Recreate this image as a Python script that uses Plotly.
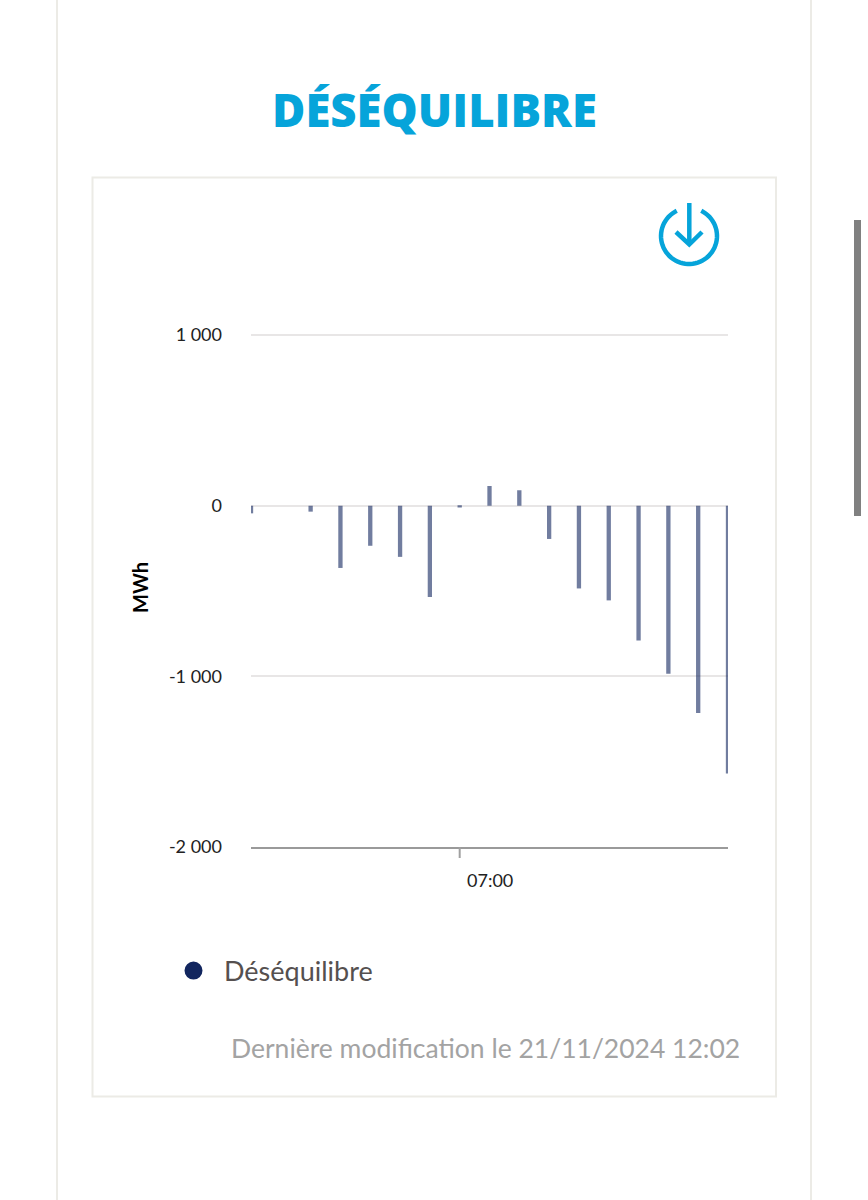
import numpy as np
import plotly.graph_objects as go

W = 868
H = 1200

times = ['2024-11-21 05:15', '2024-11-21 05:45', '2024-11-21 06:00', '2024-11-21 06:15',
         '2024-11-21 06:30', '2024-11-21 06:45', '2024-11-21 07:00', '2024-11-21 07:15',
         '2024-11-21 07:30', '2024-11-21 07:45', '2024-11-21 08:00', '2024-11-21 08:15',
         '2024-11-21 08:30', '2024-11-21 08:45', '2024-11-21 09:00', '2024-11-21 09:15']
values = [-45, -35, -365, -235, -300, -535, -10, 115, 90, -195, -485, -555, -790, -985, -1215, -1570]
y_ticks = [-2000, -1000, 0, 1000]
y_labels = ['-2 000', '-1 000', '0', '1 000']

NAVY = '#12265f'
BLUE = '#06a4da'
BORDER = '#ecebe6'


# shapes are placed in screen pixels, converted to paper coordinates
def px(x):
    return x / W


def py(y):
    return 1 - y / H


def rect(x0, y0, x1, y1, **kw):
    return dict(type='rect', xref='paper', yref='paper', x0=px(x0), x1=px(x1), y0=py(y0), y1=py(y1), **kw)


def path(points, width=4.5, color=BLUE):
    d = 'M' + ' L'.join(f'{px(x):.5f},{py(y):.5f}' for x, y in points)
    return dict(type='path', xref='paper', yref='paper', path=d, line=dict(color=color, width=width))


def label(text, x, y, size, color, family='Lato', xref='paper', xanchor='center', **kw):
    return dict(text=text, xref=xref, yref='paper', x=x, y=py(y), xanchor=xanchor, yanchor='middle', showarrow=False,
                font=dict(family=family, size=size, color=color, **kw.pop('font', {})), **kw)


angles = np.radians(np.linspace(26, 334, 60))
arc = [(689 + 28 * np.sin(a), 236 - 28 * np.cos(a)) for a in angles]

fig = go.Figure()
fig.add_bar(x=times, y=values, width=130000, marker=dict(color=NAVY, opacity=0.6, line_width=0), showlegend=False)
fig.add_scatter(x=[None], y=[None], name='Déséquilibre', mode='markers',
                marker=dict(color=NAVY, size=16, symbol='circle', line=dict(color=NAVY, width=2)))

fig.update_layout(
    width=W, height=H, margin=dict(l=0, r=0, t=0, b=0, autoexpand=False),
    paper_bgcolor='white', plot_bgcolor='white',
    font=dict(family='Lato', color='#222222'),
    legend=dict(x=px(163), y=py(971), xanchor='left', yanchor='middle', bgcolor='rgba(0,0,0,0)',
                font=dict(family='Lato', size=27, color='#55504f'), itemwidth=51),
    shapes=[
        dict(type='line', xref='paper', yref='paper', x0=px(57), x1=px(57), y0=0, y1=1, line=dict(color=BORDER, width=2)),
        dict(type='line', xref='paper', yref='paper', x0=px(811), x1=px(811), y0=0, y1=1, line=dict(color=BORDER, width=2)),
        rect(92.5, 177.5, 776, 1096.5, line=dict(color=BORDER, width=2)),
        rect(854, 220, 861, 516, fillcolor='#808080', line_width=0),
        path(arc),
        path([(689.3, 203), (689.3, 244)]),
        path([(676, 232), (689.3, 244.5), (702, 232)]),
        dict(type='line', xref='x', yref='paper', x0='2024-11-21 07:00', x1='2024-11-21 07:00',
             y0=py(847), y1=py(858), line=dict(color='#a0a0a0', width=2)),
    ],
    annotations=[
        label('DÉSÉQUILIBRE', px(434), 109, 45.5, BLUE, family='Open Sans', font=dict(weight=800)),
        label('MWh', px(140), 588, 20, 'black', textangle=-90, font=dict(weight=700)),
        label('07:00', '2024-11-21 07:15', 880, 18, '#222222', xref='x'),
        label('Dernière modification le 21/11/2024 12:02', px(742), 1048, 26.5, '#a3a3a3', xanchor='right'),
    ],
)
fig.update_xaxes(type='date', domain=[px(251), px(728)], range=['2024-11-21 05:15', '2024-11-21 09:15'],
                 showgrid=False, zeroline=False, showticklabels=False, ticks='',
                 showline=True, linecolor='#9a9a9a', linewidth=2)
# top of the range is just past 1 000 so that its gridline is kept
fig.update_yaxes(domain=[py(847), py(333.3)], range=[-2000, 1010], tickmode='array', tickvals=y_ticks, ticktext=y_labels,
                 showgrid=True, gridcolor='#e8e6e6', gridwidth=2, zeroline=False, showline=False, ticks='',
                 ticklabelstandoff=28, tickfont=dict(family='Lato', size=18, color='#222222'))

fig.write_html("out.html", config={'displayModeBar': False}, post_script="document.body.style.margin='0';")
